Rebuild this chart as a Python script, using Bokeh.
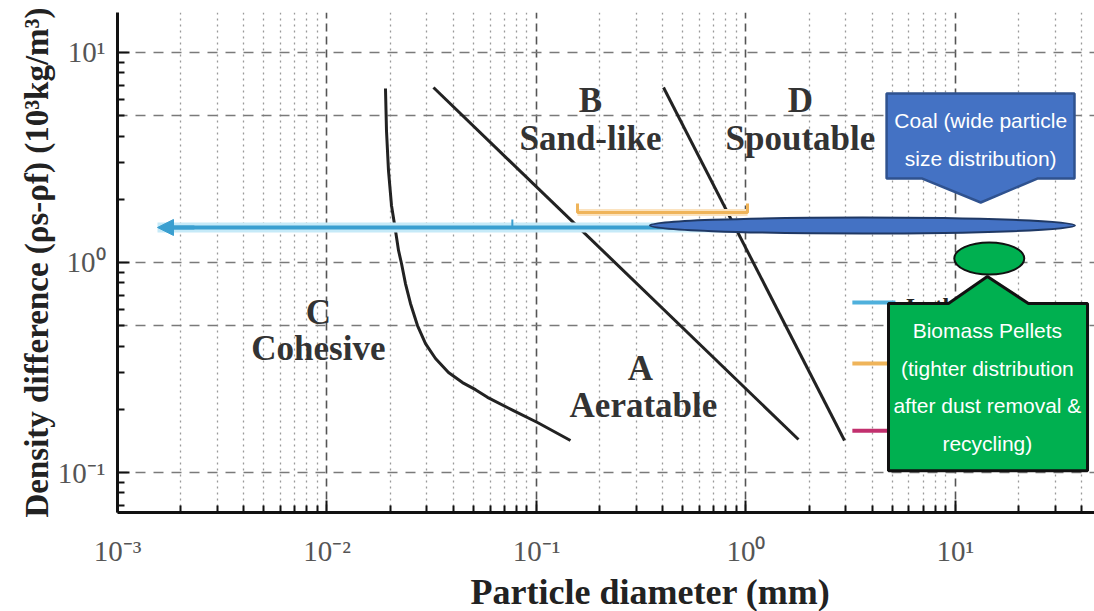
from bokeh.plotting import figure
from bokeh.models import (Range1d, FixedTicker, CustomJSTickFormatter, Title,
                          Arrow, NormalHead)
from bokeh.core.properties import value
from bokeh.embed import file_html
from bokeh.resources import INLINE

# ---------------- data ----------------
x_major_ticks = [0.001, 0.01, 0.1, 1, 10]
x_minor_ticks = [m * 10.0 ** e for e in range(-3, 2) for m in range(2, 10)]
y_major_ticks = [0.1, 1, 10]
y_minor_ticks = [0.07, 0.08, 0.09] + [m * 10.0 ** e for e in (-1, 0) for m in range(2, 10)]
y_grid_ticks = [0.1, 0.5, 1, 5, 10]

# Geldart group boundaries (C/A curve, A/B line, B/D line)
ca_d = [0.01902, 0.01923, 0.01966, 0.02032, 0.02123, 0.02195, 0.02268, 0.02369,
        0.02503, 0.02704, 0.02953, 0.03296, 0.03802, 0.04434, 0.05115, 0.05836,
        0.07767, 0.1011, 0.1453]
ca_rho = [6.74, 4.25, 2.74, 1.868, 1.420, 1.141, 0.989, 0.794,
          0.638, 0.501, 0.411, 0.349, 0.2995, 0.268, 0.248, 0.228,
          0.197, 0.173, 0.142]
ab_d = [0.03224, 1.781]
ab_rho = [6.81, 0.1436]
bd_d = [0.4040, 2.953]
bd_rho = [6.81, 0.142]

# group labels
group_letters = ["B", "D", "C", "A"]
group_names = ["Sand-like", "Spoutable", "Cohesive", "Aeratable"]
letter_d = [0.181, 1.82, 0.0091, 0.313]
letter_rho = [5.91, 5.91, 0.578, 0.313]
name_d = [0.181, 1.82, 0.0091, 0.324]
name_rho = [3.89, 3.89, 0.389, 0.208]

# coal range arrow (blue) and biomass range (orange bracket)
coal_arrow_d = [0.001552, 10.0]
coal_arrow_rho = 1.468
coal_mark_d = 0.0767
coal_mark_rho = [1.468, 1.60]
bio_d = [0.157, 1.017]
bio_rho = 1.73
bio_cap_rho = 1.91

# legend remnants
legend_d = [3.22, 5.17]
legend_rho = [0.645, 0.330, 0.158]
legend_colors = ["#4fb0dc", "#efb45a", "#c2306e"]
legend_text = "In this study"

# callout overlays
coal_ell = (3.60, 1.50)
bio_ell = (14.5, 1.045)
coal_box_d = [4.69, 37.0, 37.0, 24.6, 13.2, 6.95, 4.69]
coal_box_rho = [6.38, 6.38, 2.51, 2.51, 1.93, 2.51, 2.51]
coal_text = ["Coal (wide particle", "size distribution)"]
coal_text_d = 13.2
coal_text_rho = [4.74, 3.13]
bio_box_d = [4.79, 9.26, 14.2, 22.3, 42.7, 42.7, 4.79]
bio_box_rho = [0.638, 0.638, 0.857, 0.638, 0.638, 0.102, 0.102]
bio_text = ["Biomass Pellets", "(tighter distribution", "after dust removal &", "recycling)"]
bio_text_d = 14.2
bio_text_rho = [0.474, 0.313, 0.208, 0.137]

x_label = "Particle diameter (mm)"
y_label = "Density difference (ρs-ρf) (10³kg/m³)"

# ---------------- figure ----------------
SERIF = "Liberation Serif"
SANS = "Liberation Sans"

p = figure(width=1094, height=611, x_axis_type="log", y_axis_type="log",
           x_range=Range1d(0.001, 46.1), y_range=Range1d(0.0645, 15.5),
           output_backend="svg", toolbar_location=None,
           min_border_left=117, min_border_right=0, min_border_top=12,
           min_border_bottom=99)
p.outline_line_color = None
p.background_fill_color = "white"
p.border_fill_color = "white"

fmt = CustomJSTickFormatter(code="""
const e = Math.round(Math.log10(tick));
const sup = {"-": "\u207b", "0": "\u2070", "1": "\u00b9", "2": "\u00b2", "3": "\u00b3"};
return "10" + String(e).split("").map(c => sup[c]).join("");
""")

for ax, maj, mnr in ((p.xaxis[0], x_major_ticks, x_minor_ticks),
                     (p.yaxis[0], y_major_ticks, y_minor_ticks)):
    ax.ticker = FixedTicker(ticks=maj, minor_ticks=mnr)
    ax.formatter = fmt
    ax.axis_line_width = 3
    ax.axis_line_color = "#111111"
    ax.major_tick_in = 12
    ax.major_tick_out = 0
    ax.minor_tick_in = 7
    ax.minor_tick_out = 0
    ax.major_tick_line_width = 2
    ax.minor_tick_line_width = 2
    ax.major_tick_line_color = "#111111"
    ax.minor_tick_line_color = "#111111"
    ax.major_label_text_font = SERIF
    ax.major_label_text_font_size = "29px"
    ax.major_label_text_color = "#555555"

p.xaxis.major_label_standoff = 22
p.yaxis.major_label_standoff = 12
p.yaxis.axis_label = y_label
p.yaxis.axis_label_text_font = SERIF
p.yaxis.axis_label_text_font_style = "bold"
p.yaxis.axis_label_text_font_size = "33px"
p.yaxis.axis_label_text_color = "#222222"
p.yaxis.axis_label_standoff = 0

p.xgrid.ticker = FixedTicker(ticks=x_major_ticks, minor_ticks=x_minor_ticks)
p.xgrid.grid_line_color = "#555555"
p.xgrid.grid_line_dash = "8 5"
p.xgrid.grid_line_width = 1.6
p.xgrid.minor_grid_line_color = "#9a9a9a"
p.xgrid.minor_grid_line_dash = "2 4"
p.xgrid.minor_grid_line_width = 1.3
p.ygrid.ticker = FixedTicker(ticks=y_grid_ticks)
p.ygrid.grid_line_color = "#7a7a7a"
p.ygrid.grid_line_dash = "10 8"
p.ygrid.grid_line_width = 1.6

# boundaries
for xs, ys in ((ca_d, ca_rho), (ab_d, ab_rho), (bd_d, bd_rho)):
    p.line(xs, ys, line_color="#222222", line_width=3, line_join="round")

# group labels
p.text(letter_d, letter_rho, text=group_letters, text_font=value(SERIF),
       text_font_style="bold", text_font_size="35px", text_color="#333333",
       text_align="center", text_baseline="middle")
p.text(name_d, name_rho, text=group_names, text_font=value(SERIF),
       text_font_style="bold", text_font_size="35px", text_color="#333333",
       text_align="center", text_baseline="middle")

# orange bracket
p.line(bio_d, [bio_rho, bio_rho], line_color="#fbe3c0", line_width=7)
p.line([bio_d[0], bio_d[0], bio_d[1], bio_d[1]],
       [bio_cap_rho, bio_rho, bio_rho, bio_cap_rho],
       line_color="#efb45a", line_width=3)

# blue arrow
p.line(coal_arrow_d, [coal_arrow_rho] * 2, line_color="#c6eaf8", line_width=10)
p.line([coal_arrow_d[0] * 1.06, coal_arrow_d[1]], [coal_arrow_rho] * 2,
       line_color="#3a9fd0", line_width=4)
p.add_layout(Arrow(end=NormalHead(size=16, fill_color="#3a9fd0", line_color="#3a9fd0"),
                   x_start=coal_arrow_d[0] * 1.5, x_end=coal_arrow_d[0],
                   y_start=coal_arrow_rho, y_end=coal_arrow_rho,
                   line_color="#3a9fd0", line_width=4))
p.line([coal_mark_d, coal_mark_d], coal_mark_rho, line_color="#3a9fd0", line_width=2)

# legend remnants
for r, c in zip(legend_rho, legend_colors):
    p.line(legend_d, [r, r], line_color=c, line_width=4)
p.text([legend_d[1] * 1.12], [0.624], text=[legend_text], text_font=value(SERIF),
       text_font_style="bold", text_font_size="24px", text_color="#222222",
       text_align="left", text_baseline="middle")

# overlays: ellipses and callouts
p.ellipse(x=[coal_ell[0]], y=[coal_ell[1]], width=425, height=16,
          width_units="screen", height_units="screen",
          fill_color="#4472C4", line_color="#1f3864", line_width=2)
p.ellipse(x=[bio_ell[0]], y=[bio_ell[1]], width=70, height=32,
          width_units="screen", height_units="screen",
          fill_color="#00B050", line_color="#111111", line_width=2)

p.patch(coal_box_d, coal_box_rho, fill_color="#4472C4", line_color="#2F528F",
        line_width=2.5)
p.text([coal_text_d] * 2, coal_text_rho, text=coal_text, text_font=value(SANS),
       text_font_size="21px", text_color="white", text_align="center",
       text_baseline="middle")
p.patch(bio_box_d, bio_box_rho, fill_color="#00B050", line_color="#111111",
        line_width=3)
p.text([bio_text_d] * 4, bio_text_rho, text=bio_text, text_font=value(SANS),
       text_font_size="21px", text_color="white", text_align="center",
       text_baseline="middle")

# x axis label, placed as a bottom title so it can sit off-centre like the original
p.add_layout(Title(text=x_label, align="left", offset=353, text_font=SERIF,
                   text_font_style="bold", text_font_size="36px",
                   text_color="#222222", standoff=0), "below")

open("out.html", "w").write(file_html(p, INLINE))
